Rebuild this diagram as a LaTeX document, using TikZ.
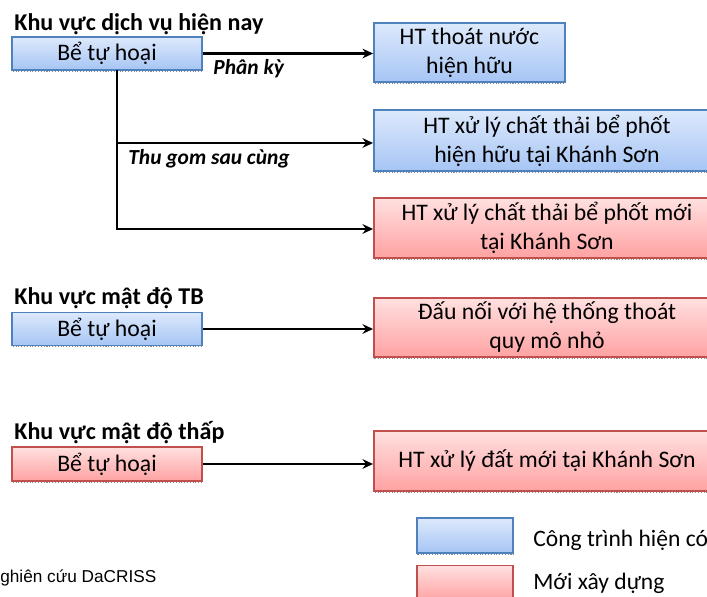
\documentclass[tikz,border=0pt]{standalone}
\usepackage{fontspec}
\setmainfont{Carlito}
\newfontfamily\srcfont{Liberation Sans}
\usepackage{tikz}
\usepackage{xcolor}
\usetikzlibrary{arrows.meta}

\definecolor{oldline}{HTML}{4F81BD}
\definecolor{oldtop}{HTML}{DDE9FC}
\definecolor{oldbot}{HTML}{A6C5F4}
\definecolor{newline}{HTML}{C0504D}
\definecolor{newtop}{HTML}{FFE0E0}
\definecolor{newbot}{HTML}{FFA2A2}

\begin{document}
\begin{tikzpicture}[x=0.02cm,y=-0.02cm,
    boxshadow/.style={preaction={draw=black!45, densely dotted, line width=0.6pt,
        transform canvas={xshift=0.4pt,yshift=-0.8pt}}},
    oldbox/.style={boxshadow, draw=oldline, line width=1.1pt, top color=oldtop, bottom color=oldbot,
        inner sep=1pt, align=center, font=\fontsize{13.5}{16.5}\selectfont},
    newbox/.style={boxshadow, draw=newline, line width=1.1pt, top color=newtop, bottom color=newbot,
        inner sep=1pt, align=center, font=\fontsize{13.5}{16.5}\selectfont},
    area/.style={anchor=base west, inner sep=0pt, font=\fontsize{13.7}{16}\selectfont\bfseries},
    route/.style={anchor=base west, inner sep=0pt, font=\fontsize{12.2}{14}\selectfont\bfseries\itshape},
    flow/.style={line width=1.4pt, -{Stealth[length=6pt,width=5.5pt]}}]
\useasboundingbox (0,0) rectangle (707,597);
\clip (0,0) rectangle (707,597);

% khu vuc dich vu hien nay
\node[area] (areaA) at (14,31) {Khu vực dịch vụ hiện nay};
\node[oldbox, minimum width=3.8cm, minimum height=0.66cm] (tankA) at (107,53.5) {Bể tự hoại};
\node[oldbox, minimum width=3.82cm, minimum height=1.18cm] (drain) at (469.5,52.5) {HT thoát nước\\hiện hữu};
\node[oldbox, minimum width=6.92cm, minimum height=1.22cm] (oldplant) at (547,140.5) {HT xử lý chất thải bể phốt\\hiện hữu tại Khánh Sơn};
\node[newbox, minimum width=6.92cm, minimum height=1.2cm] (newplant) at (547,228) {HT xử lý chất thải bể phốt mới\\tại Khánh Sơn};
\coordinate (split) at (117,70);

\draw[flow] (tankA.east) -- (tankA.east -| drain.west);
\draw[line width=1.4pt] (split) -- (117,230);
\draw[flow] (split) |- (117,143) -- (117,143 -| oldplant.west);
\draw[flow] (117,229) -- (117,229 -| newplant.west);
\node[route] (split1) at (213,75) {Phân kỳ};
\node[route] (split2) at (128,165) {Thu gom sau cùng};

% khu vuc mat do TB
\node[area] (areaB) at (14,305) {Khu vực mật độ TB};
\node[oldbox, minimum width=3.8cm, minimum height=0.66cm] (tankB) at (107,329) {Bể tự hoại};
\node[newbox, minimum width=6.92cm, minimum height=1.18cm] (smallnet) at (547,327.5) {Đấu nối với hệ thống thoát\\quy mô nhỏ};
\draw[flow] (tankB.east) -- (tankB.east -| smallnet.west);

% khu vuc mat do thap
\node[area] (areaC) at (14,440) {Khu vực mật độ thấp};
\node[newbox, minimum width=3.8cm, minimum height=0.68cm] (tankC) at (107,464) {Bể tự hoại};
\node[newbox, minimum width=6.92cm, minimum height=1.2cm] (landplant) at (547,461) {HT xử lý đất mới tại Khánh Sơn};
\draw[flow] (tankC.east) -- (tankC.east -| landplant.west);

% chu thich
\node[oldbox, minimum width=1.92cm, minimum height=0.7cm] (keyold) at (465,535.5) {};
\node[newbox, minimum width=1.92cm, minimum height=0.7cm] (keynew) at (465,583) {};
\node[anchor=base west, inner sep=0pt, font=\fontsize{13.4}{16}\selectfont] (keyoldtxt) at (533,547) {Công trình hiện có};
\node[anchor=base west, inner sep=0pt, font=\fontsize{13.4}{16}\selectfont] (keynewtxt) at (533,590) {Mới xây dựng};

\node[anchor=base west, inner sep=0pt, font=\srcfont\fontsize{9.8}{11}\selectfont] (source) at (0,583) {ghiên cứu DaCRISS};
\end{tikzpicture}
\end{document}
